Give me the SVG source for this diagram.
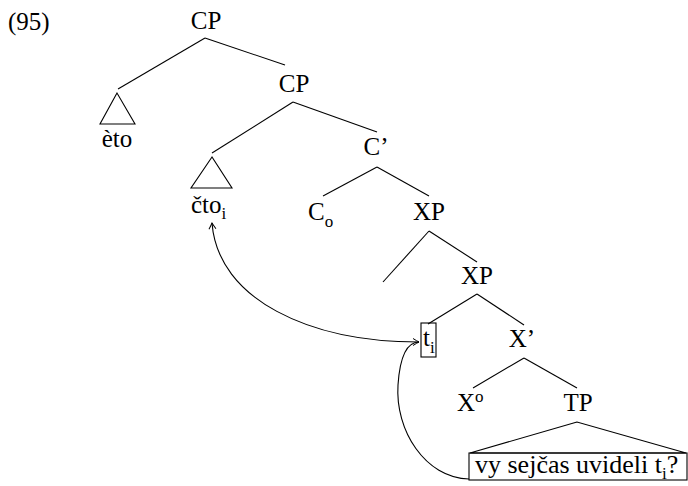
<svg xmlns="http://www.w3.org/2000/svg" width="688" height="486" viewBox="0 0 688 486" font-family="'Liberation Serif', 'DejaVu Serif', serif" font-size="25">
<defs>
<style>
.t{font-family:'Liberation Serif','DejaVu Serif',serif;font-size:25px;fill:#000}
.m{text-anchor:middle}
.s{font-size:17px}
.ln{stroke:#000;stroke-width:1.1;fill:none}
</style>
<marker id="ar" markerUnits="userSpaceOnUse" markerWidth="12" markerHeight="12" refX="0" refY="0" viewBox="-8 -6 10 12" orient="auto-start-reverse">
<path d="M-6,-3.5 Q-2,-1 0,0 Q-2,1 -6,3.5" stroke="#000" stroke-width="1" fill="none"/>
</marker>
</defs>
<rect width="688" height="486" fill="#fff"/>
<text class="t" x="8" y="30">(95)</text>
<g id="cp1"><text class="t m" x="206" y="29">CP</text></g>
<g id="eto"><polygon class="ln" points="117,93 100,124 135,124"/><text class="t m" x="117" y="147">èto</text></g>
<g id="cp2"><text class="t m" x="294" y="92">CP</text></g>
<g id="chto"><polygon class="ln" points="212,157 191,188 232,188"/><text class="t" x="191" y="213">čto<tspan class="s" font-size="17" dy="6">i</tspan></text></g>
<g id="cbar"><text class="t m" x="376" y="155">C’</text></g>
<g id="c0"><text class="t" x="308" y="220">C<tspan class="s" font-size="17" dy="7">o</tspan></text></g>
<g id="xp1"><text class="t m" x="429" y="220">XP</text></g>
<g id="xp2"><text class="t m" x="477" y="284">XP</text></g>
<g id="ti"><rect class="ln" x="421" y="323" width="15" height="34"/><text class="t" x="423" y="346">t<tspan class="s" font-size="17" dy="7">i</tspan></text></g>
<g id="xbar"><text class="t m" x="522" y="347">X’</text></g>
<g id="x0"><text class="t" x="457" y="411">X<tspan class="s" font-size="17" dy="-9">o</tspan></text></g>
<g id="tp"><text class="t m" x="578" y="411">TP</text></g>
<g id="clause"><polygon class="ln" points="577,422 470,453 686,453"/><rect class="ln" x="469" y="453" width="218" height="27"/><text class="t" x="475" y="473" style="font-size:26px">vy sejčas uvideli t<tspan class="s" font-size="17" dy="6">i</tspan><tspan dy="-6">?</tspan></text></g>
<g id="connectors" class="ln">
<line x1="205" y1="38" x2="118" y2="89"/>
<line x1="205" y1="38" x2="285" y2="65"/>
<line x1="293" y1="102" x2="212" y2="153"/>
<line x1="293" y1="102" x2="377" y2="132"/>
<line x1="377" y1="167" x2="323" y2="196"/>
<line x1="377" y1="167" x2="429" y2="196"/>
<line x1="429" y1="231" x2="383" y2="282"/>
<line x1="429" y1="231" x2="477" y2="262"/>
<line x1="477" y1="294" x2="428" y2="324"/>
<line x1="477" y1="294" x2="524" y2="325"/>
<line x1="524" y1="358" x2="473" y2="388"/>
<line x1="524" y1="358" x2="577" y2="388"/>
<path d="M419,342 C310,342 218,300 212,223" marker-start="url(#ar)" marker-end="url(#ar)"/>
<path d="M469,479 C425,478 395,430 398,385 C400,355 408,342 419,342"/>
</g>
</svg>
